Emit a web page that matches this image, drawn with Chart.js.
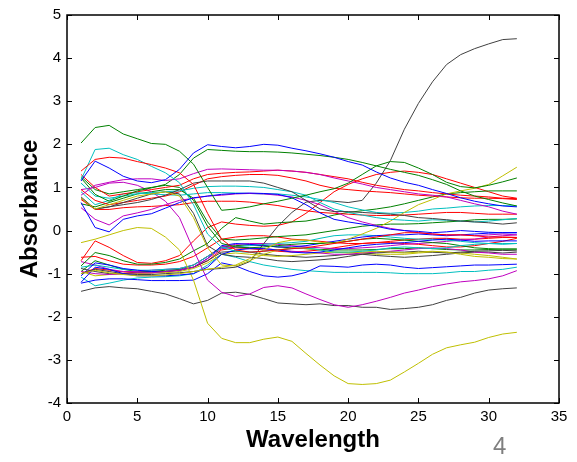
<!DOCTYPE html>
<html>
<head>
    <meta charset="utf-8">
    <script src="https://cdn.jsdelivr.net/npm/chart.js@4.4.1/dist/chart.umd.min.js"></script>
    <style>
        body { margin: 0; background: #fff; }
        #wrap { position: relative; width: 577px; height: 462px; }
        #pageNo {
            position: absolute; left: 493px; top: 432px;
            font-family: "Liberation Sans", Arial, sans-serif;
            font-size: 24px; color: #7f7f7f;
        }
    </style>
</head>
<body>
<div id="wrap">
    <canvas id="myChart" width="577" height="462"></canvas>
    <div id="pageNo">4</div>
</div>

<script>
    // sample index along the x axis
    var wavelength = [1, 2, 3, 4, 5, 6, 7, 8, 9, 10, 11, 12, 13, 14, 15, 16,
                      17, 18, 19, 20, 21, 22, 23, 24, 25, 26, 27, 28, 29, 30, 31, 32];
    var xTicks = [0, 5, 10, 15, 20, 25, 30, 35];
    var yTicks = [-4, -3, -2, -1, 0, 1, 2, 3, 4, 5];

    // absorbance spectra, one array per sample
    var blueTop   = [1.15, 1.61, 1.45, 1.26, 1.15, 1.11, 1.18, 1.42, 1.8, 1.99, 1.95, 1.92, 1.95, 2.0, 1.98, 1.91, 1.85, 1.78, 1.7, 1.6, 1.52, 1.36, 1.22, 1.12, 1.05, 0.95, 0.86, 0.76, 0.68, 0.62, 0.57, 0.55];
    var greenTop  = [2.03, 2.39, 2.44, 2.24, 2.13, 2.02, 2.0, 1.84, 1.54, 1.0, 0.47, 0.5, 0.55, 0.62, 0.68, 0.75, 0.82, 0.9, 0.97, 1.1, 1.3, 1.5, 1.6, 1.58, 1.45, 1.3, 1.12, 1.02, 0.99, 1.05, 1.13, 1.22];
    var greenHigh = [1.22, 0.84, 0.68, 0.8, 0.92, 0.99, 1.07, 1.3, 1.68, 1.88, 1.86, 1.84, 1.83, 1.83, 1.82, 1.8, 1.77, 1.74, 1.7, 1.65, 1.58, 1.5, 1.42, 1.35, 1.28, 1.18, 1.07, 0.92, 0.8, 0.72, 0.64, 0.57];
    var cyanTop   = [1.18, 1.88, 1.91, 1.76, 1.65, 1.49, 1.34, 1.11, 0.6, -0.08, -0.39, -0.48, -0.5, -0.48, -0.45, -0.42, -0.4, -0.45, -0.5, -0.5, -0.48, -0.45, -0.4, -0.38, -0.4, -0.42, -0.4, -0.35, -0.32, -0.3, -0.32, -0.3];
    var redTop    = [1.38, 1.65, 1.7, 1.68, 1.6, 1.53, 1.45, 1.34, 1.07, 0.4, -0.2, -0.45, -0.5, -0.48, -0.45, -0.42, -0.4, -0.35, -0.3, -0.25, -0.2, -0.15, -0.1, -0.05, -0.05, -0.08, -0.1, -0.1, -0.12, -0.15, -0.15, -0.16];
    var magentaA  = [0.82, 1.05, 1.12, 1.18, 1.2, 1.2, 1.16, 1.2, 1.32, 1.42, 1.43, 1.42, 1.41, 1.4, 1.4, 1.38, 1.35, 1.3, 1.22, 1.15, 1.08, 1.0, 0.95, 0.9, 0.85, 0.82, 0.78, 0.7, 0.62, 0.55, 0.45, 0.38];
    var redB      = [1.3, 1.0, 0.8, 0.85, 0.9, 0.95, 1.0, 1.05, 1.2, 1.3, 1.33, 1.35, 1.36, 1.38, 1.4, 1.38, 1.35, 1.3, 1.25, 1.2, 1.12, 1.05, 1.0, 0.95, 0.92, 0.88, 0.85, 0.82, 0.8, 0.78, 0.75, 0.74];
    var redC      = [0.95, 0.7, 0.6, 0.65, 0.7, 0.75, 0.8, 0.9, 1.05, 1.2, 1.25, 1.28, 1.3, 1.3, 1.28, 1.22, 1.15, 1.05, 0.98, 0.95, 0.92, 0.9, 0.88, 0.85, 0.82, 0.8, 0.78, 0.76, 0.75, 0.75, 0.74, 0.72];
    var blackA    = [0.75, 0.5, 0.55, 0.6, 0.65, 0.72, 0.82, 0.95, 1.1, 1.15, 1.15, 1.15, 1.15, 1.1, 1.0, 0.9, 0.7, 0.5, 0.44, 0.44, 0.42, 0.4, 0.38, 0.35, 0.3, 0.28, 0.25, 0.22, 0.2, 0.18, 0.15, 0.18];
    var cyanB     = [1.1, 0.8, 0.75, 0.8, 0.85, 0.88, 0.9, 0.92, 0.98, 1.02, 1.03, 1.03, 1.02, 1.0, 0.95, 0.9, 0.82, 0.65, 0.5, 0.42, 0.36, 0.3, 0.26, 0.24, 0.22, 0.25, 0.24, 0.22, 0.2, 0.22, 0.25, 0.28];
    var cyanC     = [0.9, 0.6, 0.7, 0.85, 0.88, 0.85, 0.83, 0.82, 0.85, 0.88, 0.88, 0.87, 0.86, 0.85, 0.85, 0.82, 0.78, 0.72, 0.65, 0.55, 0.48, 0.42, 0.4, 0.42, 0.45, 0.5, 0.52, 0.55, 0.57, 0.58, 0.58, 0.57];
    var blueB     = [0.65, 0.07, -0.03, 0.26, 0.34, 0.39, 0.52, 0.65, 0.76, 0.8, 0.84, 0.86, 0.87, 0.86, 0.84, 0.76, 0.6, 0.41, 0.26, 0.2, 0.15, 0.1, 0.03, 0.0, -0.02, -0.05, -0.03, 0.0, -0.02, -0.04, -0.05, -0.05];
    var magentaB  = [0.53, 0.26, 0.13, 0.34, 0.41, 0.49, 0.6, 0.7, 0.75, 0.8, 0.82, 0.85, 0.86, 0.85, 0.82, 0.78, 0.7, 0.6, 0.45, 0.3, 0.2, 0.12, 0.05, 0.0, -0.05, -0.08, -0.1, -0.1, -0.12, -0.1, -0.08, -0.1];
    var magentaLow = [0.95, 1.0, 1.1, 1.12, 1.05, 0.9, 0.68, 0.3, -0.45, -1.15, -1.43, -1.53, -1.47, -1.32, -1.28, -1.33, -1.47, -1.6, -1.72, -1.78, -1.72, -1.64, -1.55, -1.45, -1.38, -1.3, -1.24, -1.19, -1.16, -1.12, -1.05, -0.93];
    var greenC    = [1.25, 0.95, 0.85, 0.9, 0.95, 1.0, 1.05, 1.0, 0.7, 0.1, -0.3, -0.38, -0.4, -0.38, -0.35, -0.32, -0.3, -0.3, -0.28, -0.25, -0.2, -0.18, -0.2, -0.22, -0.25, -0.28, -0.3, -0.35, -0.4, -0.42, -0.43, -0.43];
    var yellowB   = [0.75, 0.5, 0.6, 0.7, 0.8, 0.85, 0.9, 0.8, 0.3, -0.4, -0.8, -0.82, -0.7, -0.55, -0.45, -0.4, -0.42, -0.45, -0.5, -0.52, -0.5, -0.48, -0.5, -0.52, -0.5, -0.48, -0.5, -0.55, -0.6, -0.62, -0.65, -0.66];
    var grayFall  = [0.78, 0.5, 0.55, 0.65, 0.75, 0.85, 0.9, 0.85, 0.4, -0.35, -0.55, -0.6, -0.62, -0.65, -0.7, -0.72, -0.7, -0.68, -0.65, -0.6, -0.55, -0.52, -0.5, -0.5, -0.48, -0.5, -0.52, -0.5, -0.48, -0.47, -0.46, -0.47];
    var redD      = [0.72, 0.49, 0.49, 0.53, 0.55, 0.56, 0.58, 0.6, 0.65, 0.68, 0.68, 0.68, 0.66, 0.62, 0.58, 0.52, 0.46, 0.42, 0.4, 0.38, 0.36, 0.35, 0.35, 0.36, 0.38, 0.4, 0.42, 0.42, 0.4, 0.38, 0.38, 0.38];
    var greenE    = [0.62, 0.55, 0.65, 0.75, 0.85, 0.9, 0.95, 0.95, 0.75, 0.2, -0.2, -0.22, -0.2, -0.17, -0.14, -0.12, -0.1, -0.05, 0.0, 0.05, 0.1, 0.13, 0.15, 0.15, 0.16, 0.18, 0.2, 0.22, 0.25, 0.26, 0.26, 0.27];

    var redRise   = [-0.7, -0.24, -0.39, -0.58, -0.74, -0.76, -0.7, -0.58, -0.24, 0.07, 0.2, 0.15, 0.12, 0.1, 0.12, 0.2, 0.4, 0.65, 0.9, 1.07, 1.2, 1.3, 1.35, 1.38, 1.35, 1.3, 1.2, 1.1, 1.0, 0.9, 0.8, 0.75];
    var greenRise = [-0.82, -0.51, -0.58, -0.7, -0.78, -0.78, -0.74, -0.66, -0.47, -0.3, 0.05, 0.3, 0.22, 0.15, 0.18, 0.2, 0.22, 0.28, 0.36, 0.42, 0.46, 0.5, 0.55, 0.62, 0.7, 0.78, 0.85, 0.88, 0.9, 0.92, 0.92, 0.92];
    var greenD    = [-0.95, -0.7, -0.8, -0.9, -0.95, -0.95, -0.92, -0.9, -0.8, -0.6, -0.38, -0.35, -0.33, -0.35, -0.38, -0.4, -0.42, -0.44, -0.45, -0.45, -0.45, -0.44, -0.42, -0.42, -0.4, -0.42, -0.44, -0.45, -0.45, -0.44, -0.43, -0.43];
    var blueLow   = [-1.2, -0.85, -0.9, -1.0, -1.05, -1.05, -1.05, -1.03, -1.0, -0.85, -0.55, -0.45, -0.42, -0.42, -0.45, -0.5, -0.52, -0.5, -0.45, -0.4, -0.35, -0.32, -0.3, -0.28, -0.25, -0.22, -0.2, -0.22, -0.25, -0.24, -0.24, -0.24];
    var blueBottom = [-1.22, -1.15, -1.12, -1.12, -1.14, -1.16, -1.16, -1.16, -1.15, -1.0, -0.75, -0.82, -0.95, -1.05, -1.08, -1.05, -0.97, -0.82, -0.83, -0.85, -0.8, -0.78, -0.8, -0.85, -0.88, -0.86, -0.84, -0.82, -0.8, -0.8, -0.79, -0.78];
    var cyanBottom = [-1.08, -1.28, -1.22, -1.15, -1.1, -1.08, -1.07, -1.05, -1.0, -0.8, -0.55, -0.62, -0.72, -0.8, -0.85, -0.9, -0.93, -0.95, -0.97, -0.97, -0.97, -0.97, -0.98, -1.0, -1.0, -1.0, -0.98, -0.95, -0.95, -0.92, -0.9, -0.85];
    var redE      = [-0.62, -0.6, -0.7, -0.78, -0.8, -0.8, -0.78, -0.72, -0.6, -0.4, -0.2, -0.15, -0.12, -0.12, -0.15, -0.2, -0.22, -0.25, -0.28, -0.3, -0.3, -0.28, -0.25, -0.22, -0.2, -0.18, -0.18, -0.2, -0.2, -0.18, -0.16, -0.16];
    var magentaC  = [-0.95, -1.0, -1.02, -1.0, -0.98, -0.98, -0.95, -0.92, -0.85, -0.65, -0.42, -0.38, -0.4, -0.42, -0.45, -0.48, -0.5, -0.52, -0.55, -0.55, -0.52, -0.5, -0.48, -0.45, -0.42, -0.4, -0.42, -0.45, -0.5, -0.52, -0.55, -0.55];
    var yellowRise = [-1.0, -0.92, -0.98, -1.02, -1.05, -1.05, -1.03, -1.0, -0.95, -0.9, -0.85, -0.8, -0.65, -0.45, -0.28, -0.22, -0.22, -0.27, -0.3, -0.2, -0.08, 0.05, 0.22, 0.42, 0.6, 0.72, 0.85, 0.92, 0.98, 1.07, 1.27, 1.47];
    var grayLow   = [-0.88, -0.95, -1.0, -1.0, -0.98, -0.98, -0.95, -0.92, -0.85, -0.7, -0.5, -0.48, -0.5, -0.55, -0.58, -0.6, -0.62, -0.6, -0.58, -0.55, -0.55, -0.58, -0.6, -0.62, -0.6, -0.58, -0.55, -0.52, -0.5, -0.5, -0.52, -0.5];
    var blackRise = [-1.0, -0.9, -0.95, -1.0, -1.02, -1.02, -1.0, -0.98, -0.95, -0.9, -0.88, -0.85, -0.72, -0.3, 0.1, 0.42, 0.66, 0.7, 0.68, 0.65, 0.7, 1.1, 1.62, 2.35, 2.95, 3.45, 3.85, 4.08, 4.22, 4.33, 4.43, 4.45];
    var blueLow2  = [-1.05, -0.75, -0.8, -0.88, -0.92, -0.95, -0.95, -0.92, -0.85, -0.65, -0.35, -0.3, -0.32, -0.35, -0.38, -0.38, -0.35, -0.3, -0.25, -0.2, -0.15, -0.12, -0.1, -0.1, -0.08, -0.1, -0.12, -0.1, -0.08, -0.06, -0.05, -0.05];
    var cyanLow2  = [-0.85, -0.8, -0.85, -0.9, -0.92, -0.92, -0.9, -0.88, -0.8, -0.6, -0.4, -0.38, -0.35, -0.32, -0.3, -0.28, -0.25, -0.18, -0.12, -0.1, -0.1, -0.12, -0.15, -0.18, -0.2, -0.2, -0.22, -0.25, -0.28, -0.3, -0.3, -0.3];
    var greenLow2 = [-1.05, -0.95, -1.0, -1.02, -1.02, -1.0, -0.98, -0.95, -0.9, -0.75, -0.55, -0.55, -0.58, -0.6, -0.62, -0.62, -0.6, -0.58, -0.58, -0.55, -0.52, -0.5, -0.5, -0.5, -0.48, -0.46, -0.45, -0.44, -0.44, -0.45, -0.46, -0.47];
    var magentaLow2 = [-0.72, -0.8, -0.9, -0.95, -0.95, -0.92, -0.9, -0.88, -0.8, -0.6, -0.38, -0.32, -0.3, -0.3, -0.32, -0.35, -0.38, -0.4, -0.42, -0.42, -0.4, -0.38, -0.35, -0.32, -0.3, -0.28, -0.25, -0.22, -0.2, -0.15, -0.12, -0.1];
    var redLow3   = [-1.0, -0.88, -0.92, -0.96, -0.98, -0.98, -0.96, -0.92, -0.85, -0.7, -0.45, -0.4, -0.42, -0.45, -0.48, -0.5, -0.48, -0.45, -0.4, -0.35, -0.3, -0.28, -0.28, -0.3, -0.32, -0.35, -0.38, -0.38, -0.35, -0.3, -0.25, -0.18];
    var yellowLow2 = [-0.95, -1.05, -1.02, -1.0, -1.0, -0.98, -0.98, -0.95, -0.88, -0.75, -0.55, -0.52, -0.55, -0.58, -0.6, -0.58, -0.55, -0.52, -0.5, -0.5, -0.52, -0.55, -0.55, -0.55, -0.52, -0.5, -0.5, -0.52, -0.55, -0.58, -0.62, -0.66];
    var yellowDip = [-0.28, -0.2, -0.1, 0.0, 0.07, 0.05, -0.15, -0.45, -1.15, -2.15, -2.5, -2.6, -2.6, -2.52, -2.47, -2.57, -2.85, -3.12, -3.37, -3.55, -3.57, -3.55, -3.47, -3.28, -3.08, -2.87, -2.72, -2.65, -2.59, -2.48, -2.4, -2.36];
    var blackBottom = [-1.41, -1.33, -1.3, -1.33, -1.35, -1.41, -1.47, -1.58, -1.7, -1.62, -1.45, -1.43, -1.48, -1.58, -1.68, -1.7, -1.72, -1.7, -1.74, -1.74, -1.78, -1.78, -1.83, -1.81, -1.78, -1.72, -1.62, -1.55, -1.45, -1.38, -1.35, -1.33];

    // old-style plot colour order
    var B = '#0000ff', G = '#008000', R = '#ff0000', C = '#00bfbf',
        M = '#bf00bf', Y = '#bfbf00', K = '#404040';

    var series = [
        [blueTop, B], [greenTop, G], [redTop, R], [cyanTop, C], [magentaA, M], [yellowB, Y], [blackA, K],
        [blueB, B], [greenHigh, G], [redB, R], [cyanB, C], [magentaB, M], [yellowRise, Y], [grayFall, K],
        [blueLow, B], [greenC, G], [redC, R], [cyanC, C], [magentaLow, M], [yellowDip, Y], [blackRise, K],
        [blueBottom, B], [greenE, G], [redD, R], [cyanBottom, C], [magentaC, M], [yellowLow2, Y], [grayLow, K],
        [blueLow2, B], [greenRise, G], [redRise, R], [cyanLow2, C], [magentaLow2, M], [blackBottom, K],
        [greenD, G], [redE, R], [redLow3, R]
    ];

    var datasets = series.map(function (s) {
        return {
            data: wavelength.map(function (w, i) { return {x: w, y: s[0][i]}; }),
            borderColor: s[1],
            borderWidth: 1,
            pointRadius: 0,
            fill: false,
            tension: 0
        };
    });

    // axes box with inward tick marks on all four sides
    var boxTicks = {
        id: 'boxTicks',
        afterDatasetsDraw: function (chart) {
            var ctx = chart.ctx, a = chart.chartArea;
            var xs = chart.scales.x, ys = chart.scales.y;
            var len = 5;
            ctx.save();
            ctx.strokeStyle = '#000';
            ctx.lineWidth = 1.5;
            ctx.strokeRect(a.left, a.top, a.right - a.left, a.bottom - a.top);
            ctx.lineWidth = 1;
            ctx.beginPath();
            xTicks.forEach(function (v) {
                var px = Math.round(xs.getPixelForValue(v)) + 0.5;
                ctx.moveTo(px, a.bottom); ctx.lineTo(px, a.bottom - len);
                ctx.moveTo(px, a.top); ctx.lineTo(px, a.top + len);
            });
            yTicks.forEach(function (v) {
                var py = Math.round(ys.getPixelForValue(v)) + 0.5;
                ctx.moveTo(a.left, py); ctx.lineTo(a.left + len, py);
                ctx.moveTo(a.right, py); ctx.lineTo(a.right - len, py);
            });
            ctx.stroke();
            ctx.restore();
        }
    };

    var tickFont = {family: '"Liberation Sans", Arial, sans-serif', size: 15};
    var titleFont = {family: '"Liberation Sans", Arial, sans-serif', size: 24, weight: 'bold', lineHeight: 1};

    var myChart = new Chart(document.getElementById('myChart'), {
        type: 'line',
        data: { datasets: datasets },
        plugins: [boxTicks],
        options: {
            responsive: false,
            animation: false,
            events: [],
            layout: { padding: { top: 13, right: 18, left: 0, bottom: 0 } },
            plugins: { legend: { display: false }, tooltip: { enabled: false } },
            scales: {
                x: {
                    type: 'linear',
                    min: 0, max: 35,
                    afterBuildTicks: function (s) { s.ticks = xTicks.map(function (v) { return {value: v}; }); },
                    afterFit: function (s) { s.height = 59; },
                    grid: { display: false, drawTicks: false, tickLength: 0 },
                    border: { display: false },
                    ticks: { color: '#000', font: tickFont, padding: 5, maxRotation: 0 },
                    title: { display: true, text: 'Wavelength', color: '#000', font: titleFont,
                             padding: { top: 0, bottom: 10 } }
                },
                y: {
                    type: 'linear',
                    min: -4, max: 5,
                    afterBuildTicks: function (s) { s.ticks = yTicks.map(function (v) { return {value: v}; }); },
                    afterFit: function (s) { s.width = 67; },
                    grid: { display: false, drawTicks: false, tickLength: 0 },
                    border: { display: false },
                    ticks: { color: '#000', font: tickFont, padding: 6 },
                    title: { display: true, text: 'Absorbance', color: '#000', font: titleFont,
                             padding: { top: 18, bottom: 0 } }
                }
            }
        }
    });
</script>
</body>
</html>
